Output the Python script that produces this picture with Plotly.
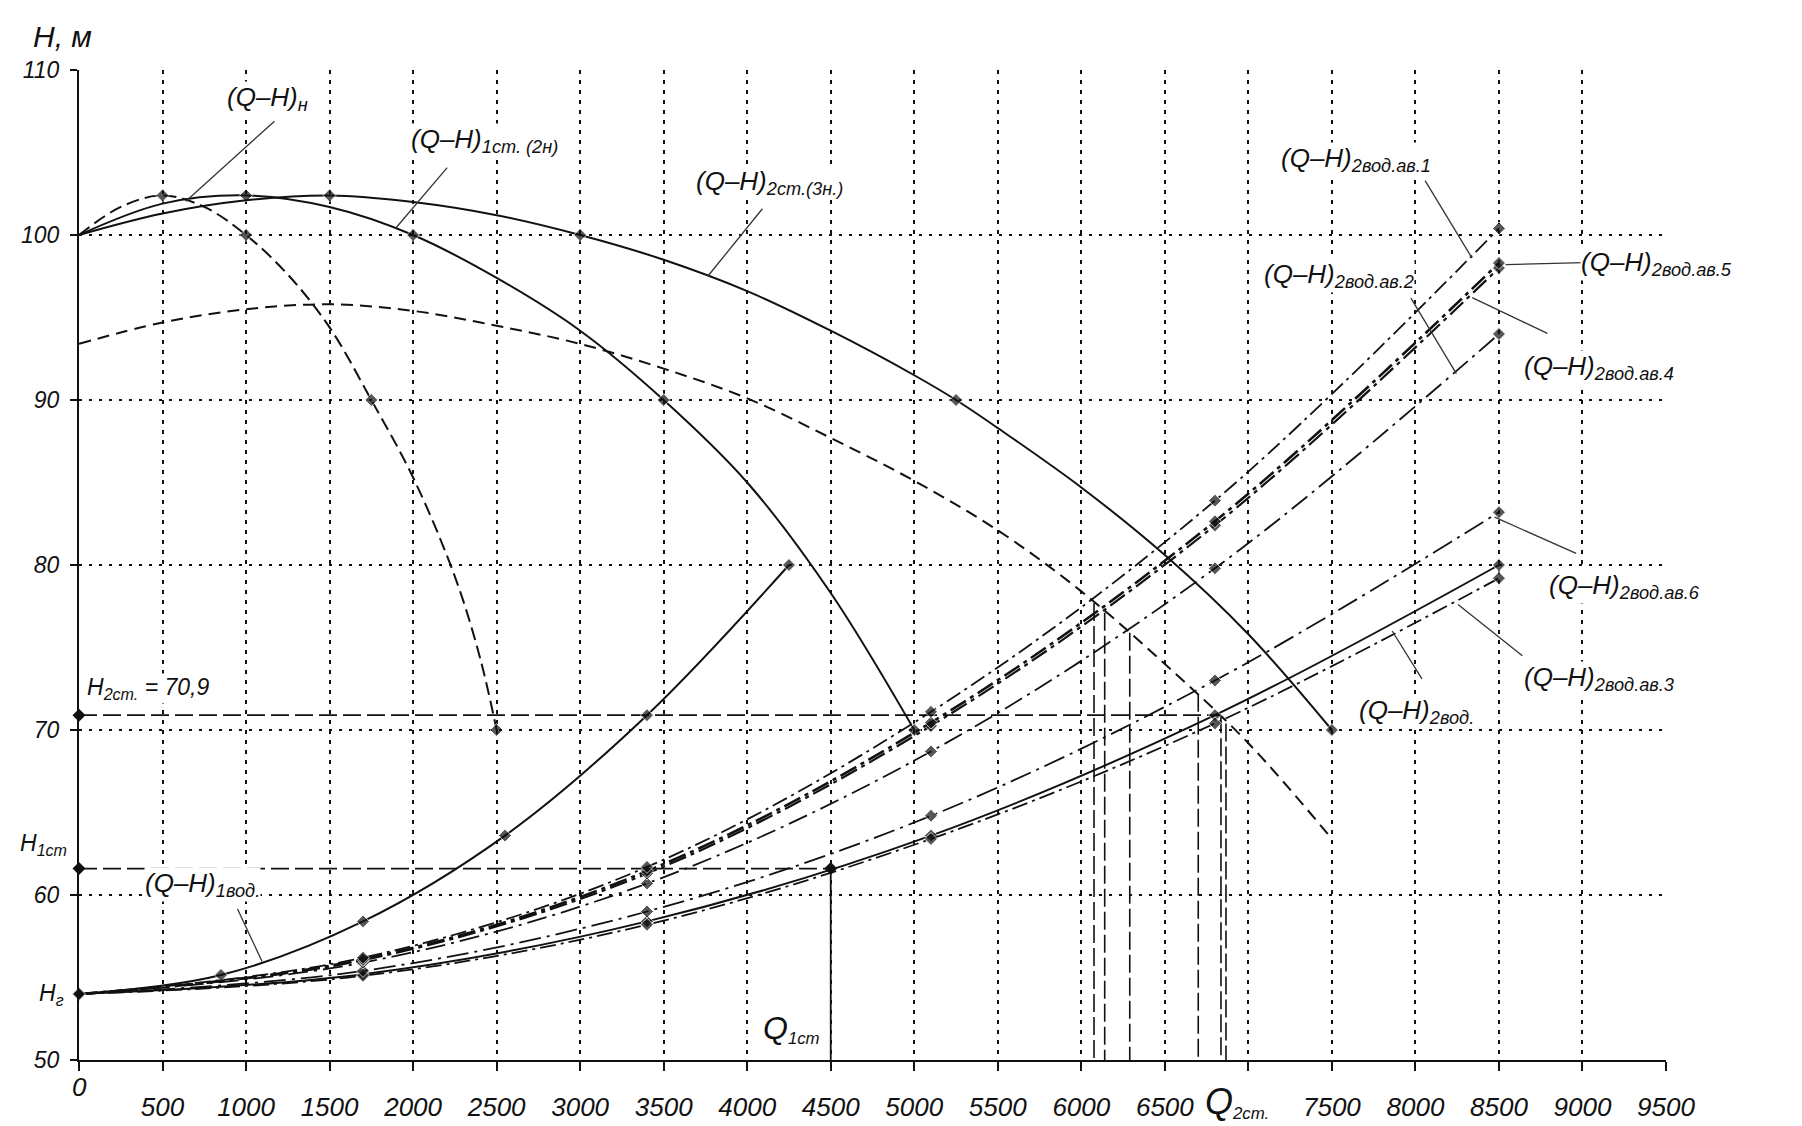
import plotly.graph_objects as go

# ---------------- data ----------------
Q_TICKS = list(range(0, 10000, 500))
X_TICK_TEXT = ["" if q in (0, 7000) else str(q) for q in Q_TICKS]
H_TICKS = [50, 60, 70, 80, 90, 100, 110]
H_TICK_TEXT = ["50", "60", "70", "80", "90", "100", "110"]

# (Q-H)н : one pump
pump1_q = [0, 250, 500, 750, 1000, 1250, 1500, 1750, 2000, 2250, 2400, 2500]
pump1_h = [100, 101.7, 102.4, 101.7, 100, 97.6, 94.4, 90, 85.3, 79.3, 74.4, 70]
pump1_marked = [500, 1000, 1750, 2500]

# (Q-H)1ст.(2н) : two pumps
pump2_q = [0, 500, 1000, 1500, 2000, 2500, 3000, 3500, 4000, 4500, 5000]
pump2_h = [100, 101.9, 102.4, 101.7, 100, 97.4, 94.2, 90, 85.0, 78.3, 70]
pump2_marked = [1000, 2000, 3500, 5000]

# (Q-H)2ст.(3н.) : three pumps
pump3_q = [0, 500, 1000, 1500, 2000, 2500, 3000, 3500, 4000, 4500, 5000, 5250,
           5500, 6000, 6500, 7000, 7500]
pump3_h = [100, 101.3, 102.1, 102.4, 102.0, 101.2, 100, 98.5, 96.6, 94.2, 91.5, 90,
           88.3, 84.7, 80.6, 75.8, 70]
pump3_marked = [1500, 3000, 5250, 7500]

# reduced (dashed) curve
red_q = [0, 500, 1000, 1500, 2000, 2500, 3000, 3500, 4000, 4500, 5000, 5500,
         6000, 6500, 7000, 7500]
red_h = [93.4, 94.7, 95.5, 95.8, 95.4, 94.5, 93.4, 91.9, 90.1, 87.7, 85.1, 82.1,
         78.4, 74.0, 69.2, 63.4]

# (Q-H)1вод.
vod1_q = [0, 850, 1700, 2550, 3400, 4250]
vod1_h = [54, 55.15, 58.4, 63.6, 70.9, 80]

# two conduits, normal and emergency cases
vod2_q = [0, 1700, 3400, 5100, 6800, 8500]
vod2_h = [54, 55.2, 58.4, 63.6, 70.9, 80.0]
av1_h = [54, 56.2, 61.7, 71.1, 83.9, 100.4]
av5_h = [54, 56.1, 61.45, 70.45, 82.65, 98.3]
av4_h = [54, 56.05, 61.3, 70.25, 82.4, 98.0]
av2_h = [54, 55.9, 60.7, 68.7, 79.8, 94.0]
av6_h = [54, 55.4, 59.0, 64.8, 73.0, 83.2]
av3_h = [54, 55.1, 58.2, 63.4, 70.4, 79.2]

H_GEO = 54
H2_ST, Q2_ST = 70.9, 6836
H1_ST, Q1_ST = 61.6, 4500
cross_q = [6076, 6140, 6290, 6700, 6836, 6866]
cross_h = [77.7, 77.1, 75.9, 72.2, 70.9, 70.4]

# ---------------- styling ----------------
INK = "#111111"
FONT = "Liberation Sans, Arial, sans-serif"
MS = 10

fig = go.Figure()


def curve(q, h, dash="solid", width=2.0, marked=None, all_marked=False):
    if all_marked:
        sizes = [MS] * len(q)
    elif marked:
        sizes = [MS if v in marked else 0 for v in q]
    else:
        sizes = [0] * len(q)
    fig.add_trace(go.Scatter(
        x=q, y=h, mode="lines+markers",
        line=dict(color=INK, width=width, dash=dash, shape="spline", smoothing=1.0),
        marker=dict(symbol="diamond", size=sizes, color=INK),
        cliponaxis=False, hoverinfo="skip"))


def seg(x, y, dash="solid", width=1.6, markers=False):
    fig.add_trace(go.Scatter(
        x=x, y=y, mode="lines+markers" if markers else "lines",
        line=dict(color=INK, width=width, dash=dash),
        marker=dict(symbol="diamond", size=MS, color=INK),
        cliponaxis=False, hoverinfo="skip"))


# construction lines
seg([0, Q2_ST], [H2_ST, H2_ST], dash="18px,6px")
seg([0], [H2_ST], markers=True)
seg([0, Q1_ST], [H1_ST, H1_ST], dash="18px,6px", markers=True)
seg([Q1_ST, Q1_ST], [H1_ST, 50], width=1.8)
for q, h in zip(cross_q, cross_h):
    seg([q, q], [h, 50], dash="18px,5px")

# pump curves
curve(pump1_q, pump1_h, dash="13px,6px", marked=pump1_marked)
curve(pump2_q, pump2_h, marked=pump2_marked)
curve(pump3_q, pump3_h, marked=pump3_marked)
curve(red_q, red_h, dash="12px,7px")

# system curves
curve(vod1_q, vod1_h, all_marked=True)
curve(vod2_q, vod2_h, all_marked=True)
curve(vod2_q, av3_h, dash="16px,5px,3px,5px", width=1.8, all_marked=True)
curve(vod2_q, av6_h, dash="22px,6px,3px,6px", width=1.8, all_marked=True)
curve(vod2_q, av2_h, dash="20px,6px,3px,6px", width=1.8, all_marked=True)
curve(vod2_q, av4_h, dash="18px,5px,4px,5px", width=2.2, all_marked=True)
curve(vod2_q, av5_h, dash="18px,5px,4px,5px", width=2.6, all_marked=True)
curve(vod2_q, av1_h, dash="16px,5px,3px,5px", width=1.8, all_marked=True)

# ---------------- labels and leaders ----------------
LBL = dict(family=FONT, size=26, color=INK, style="italic")

labels = [
    ("(Q–H)<sub>н</sub>", 882, 108.3),
    ("(Q–H)<sub>1ст. (2н)</sub>", 1983, 105.74),
    ("(Q–H)<sub>2ст.(3н.)</sub>", 3689, 103.2),
    ("(Q–H)<sub>1вод.</sub>", 387, 60.64),
    ("(Q–H)<sub>2вод.ав.1</sub>", 7190, 104.58),
    ("(Q–H)<sub>2вод.ав.5</sub>", 8986, 98.26),
    ("(Q–H)<sub>2вод.ав.2</sub>", 7087, 97.57),
    ("(Q–H)<sub>2вод.ав.4</sub>", 8642, 92.0),
    ("(Q–H)<sub>2вод.ав.6</sub>", 8793, 78.7),
    ("(Q–H)<sub>2вод.ав.3</sub>", 8642, 73.14),
    ("(Q–H)<sub>2вод.</sub>", 7658, 71.14),
]
for text, x, y in labels:
    fig.add_annotation(x=x, y=y, xref="x", yref="y", text=text, showarrow=False,
                       xanchor="left", yanchor="middle", font=LBL,
                       bgcolor="white", borderpad=0)

leaders = [
    (1170, 106.9, 640, 102.05),
    (2204, 104.08, 1898, 100.44),
    (4091, 101.59, 3764, 97.5),
    (949, 59.15, 1096, 55.97),
    (8058, 103.3, 8339, 98.6),
    (9062, 98.34, 8540, 98.2),
    (7973, 96.17, 8245, 91.6),
    (8790, 94.04, 8340, 96.2),
    (8962, 80.7, 8474, 82.9),
    (8640, 74.5, 8255, 77.6),
    (8039, 73.1, 7861, 76.0),
]
for x0, y0, x1, y1 in leaders:
    fig.add_shape(type="line", xref="x", yref="y", x0=x0, y0=y0, x1=x1, y1=y1,
                  line=dict(color="#333333", width=1.3))

SMALL = dict(family=FONT, size=23, color=INK, style="italic")
fig.add_annotation(x=44, y=72.5, xref="x", yref="y", showarrow=False,
                   text="H<sub>2ст.</sub> = 70,9", xanchor="left", yanchor="middle",
                   font=SMALL, bgcolor="white", borderpad=0)
fig.add_annotation(x=-0.006, y=63.05, xref="paper", yref="y", showarrow=False,
                   text="H<sub>1ст</sub>", xanchor="right", yanchor="middle", font=SMALL)
fig.add_annotation(x=-0.008, y=H_GEO, xref="paper", yref="y", showarrow=False,
                   text="H<sub>г</sub>", xanchor="right", yanchor="middle", font=SMALL)
fig.add_annotation(x=4081, y=51.9, xref="x", yref="y", showarrow=False,
                   text="<span style='font-size:32px'>Q</span><sub>1ст</sub>",
                   xanchor="left", yanchor="middle",
                   font=dict(family=FONT, size=24, color=INK, style="italic"))
fig.add_annotation(x=6730 / 9500, y=-0.042, xref="paper", yref="paper", showarrow=False,
                   text="<span style='font-size:36px'>Q</span><sub>2ст.</sub>",
                   xanchor="left", yanchor="middle",
                   font=dict(family=FONT, size=24, color=INK, style="italic"))
fig.add_annotation(x=0, y=-0.027, xref="paper", yref="paper", showarrow=False, text="0",
                   xanchor="center", yanchor="middle",
                   font=dict(family=FONT, size=26, color=INK, style="italic"))
fig.add_annotation(x=-0.03, y=1.034, xref="paper", yref="paper", showarrow=False,
                   text="H, м", xanchor="left", yanchor="middle",
                   font=dict(family=FONT, size=30, color=INK, style="italic"))

fig.update_layout(
    width=1802, height=1126,
    margin=dict(l=71, r=144, t=62, b=59),
    plot_bgcolor="white", paper_bgcolor="white",
    showlegend=False,
)
fig.update_xaxes(
    range=[0, 9500], tickvals=Q_TICKS, ticktext=X_TICK_TEXT,
    showgrid=True, gridcolor="#111111", gridwidth=1.5, griddash="4px,6px",
    showline=True, linecolor=INK, linewidth=2.2,
    ticks="outside", ticklen=9, tickwidth=2, tickcolor=INK,
    tickfont=dict(family=FONT, size=26, color=INK, style="italic"),
    ticklabelstandoff=14, zeroline=False,
)
fig.update_yaxes(
    range=[50, 110], tickvals=H_TICKS, ticktext=H_TICK_TEXT,
    showgrid=True, gridcolor="#111111", gridwidth=1.5, griddash="3px,7px",
    showline=True, linecolor=INK, linewidth=2.2,
    ticks="outside", ticklen=7, tickwidth=2, tickcolor=INK,
    tickfont=dict(family=FONT, size=23, color=INK, style="italic"),
    ticklabelstandoff=6, zeroline=False,
)

fig.write_html("out.html")
